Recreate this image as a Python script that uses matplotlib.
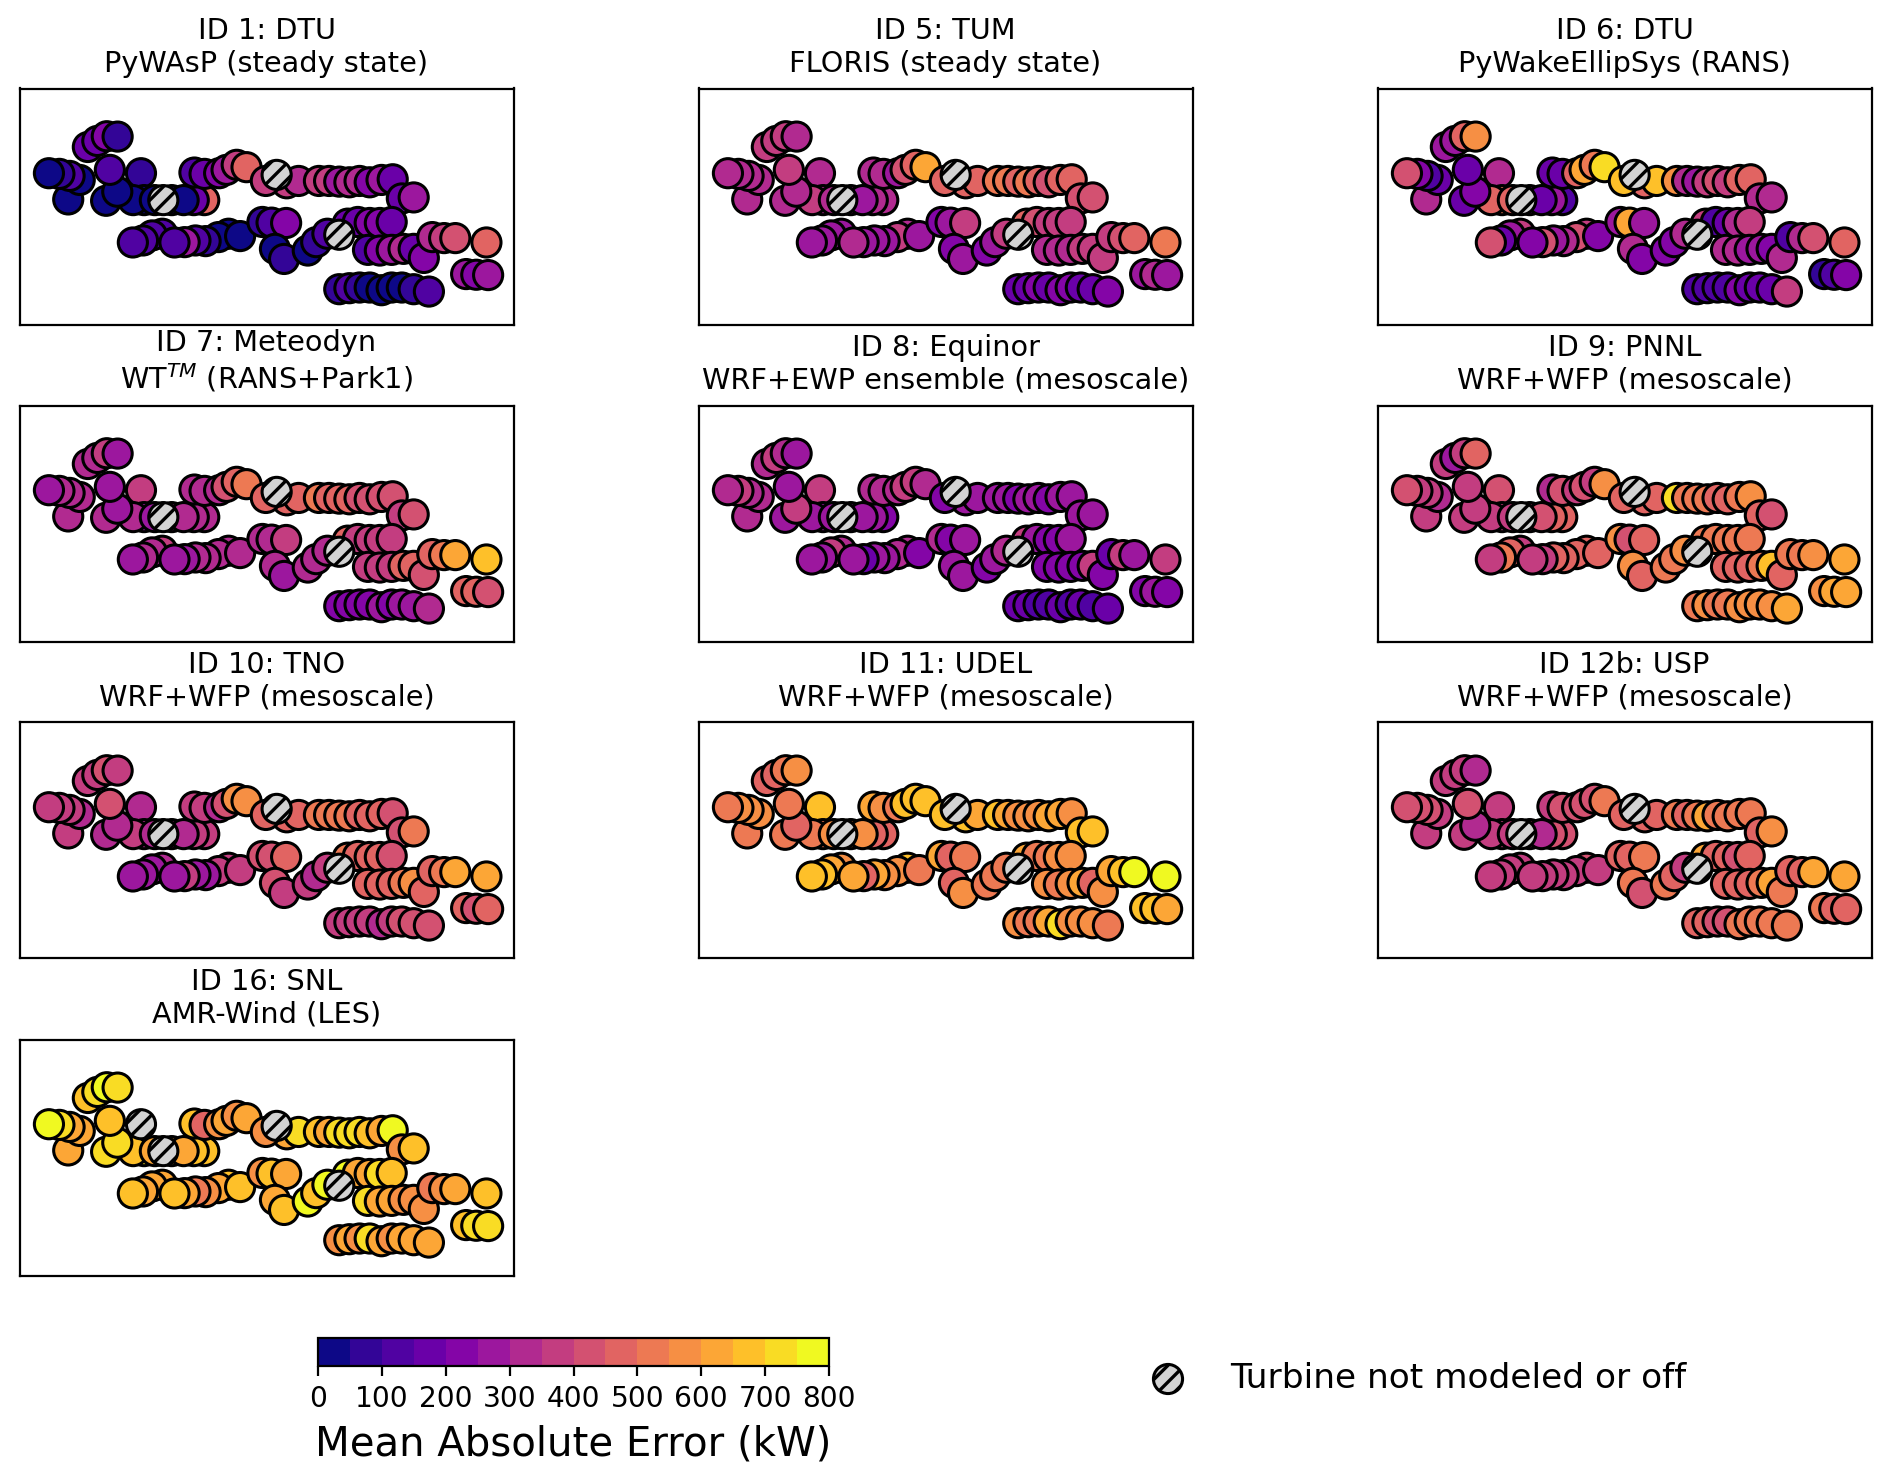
import numpy as np
import matplotlib as mpl
mpl.use('Agg')
import matplotlib.pyplot as plt

# Turbine layout, in draw order (later ones sit on top)
turbine_x = [262, 290, 318, 350,
             204, 238, 208, 178, 147,
             419, 316, 428, 396, 460, 349, 327,
             485,
             510, 606, 575, 545,
             577, 607, 650, 672, 702, 731,
             850, 788, 820, 885, 945, 975, 1005, 1035, 1065, 1095, 1130, 1163,
             1190, 1225,
             678, 648, 610, 580, 548, 482, 452, 425, 395, 518, 712,
             778, 805, 848,
             815, 842,
             912, 937, 970, 1005,
             1030, 1060, 1095, 1125, 1160,
             1090, 1125, 1160, 1195, 1225, 1255,
             1280, 1315, 1348,
             1440,
             1380, 1410, 1445,
             1005, 1035, 1065, 1095, 1130, 1160, 1190, 1225, 1270]
turbine_y = [232, 214, 200, 201,
             388, 330, 318, 312, 310,
             310, 392, 390, 390, 390, 365, 300,
             390,
             390, 390, 390, 390,
             308, 312, 310, 300, 285, 292,
             340, 333, 315, 333, 333, 333, 335, 337, 333, 337, 330, 328,
             385, 382,
             490, 500, 512, 510, 515, 490, 495, 510, 516, 516, 497,
             455, 457, 458,
             535, 565,
             540, 515, 490, 493,
             460, 455, 458, 458, 455,
             538, 540, 538, 535, 535, 562,
             500, 503, 503,
             516,
             610, 612, 613,
             655, 652, 650, 650, 658, 650, 650, 655, 662]

nan = np.nan

# Mean absolute error per turbine in kW, nan = turbine not modeled or off
mae_id1 = [175, 175, 225, 75, 25, 25, 125, 75, 25,
           75, 25, 25, 25, 25, 25, 125, nan,
           75, 475, 175, 25,
           125, 175, 225, 275, 375, 475,
           375, 375, nan, 325, 375, 375, 275, 325, 325, 225, 275, 175,
           175, 275,
           25, 25, 75, 125, 275, 125, 125, 125, 125, 125, 25,
           75, 125, 225, 25, 75, 25, 75, 125, nan,
           175, 175, 225, 225, 175,
           125, 225, 275, 325, 175, 225,
           325, 375, 425, 475, 275, 225, 275,
           75, 125, 75, 25, 25, 25, 25, 75, 125]
mae_id5 = [375, 375, 375, 325, 325, 325, 325, 325, 325,
           325, 325, 325, 375, 325, 325, 375, nan,
           325, 325, 325, 275,
           325, 325, 275, 425, 475, 625,
           475, 475, nan, 475, 525, 525, 475, 525, 475, 425, 475, 475,
           425, 425,
           325, 375, 275, 275, 275, 275, 275, 275, 275, 325, 275,
           225, 275, 375, 225, 275, 225, 275, 375, nan,
           475, 425, 375, 375, 375,
           325, 325, 325, 375, 375, 375,
           375, 425, 475, 525, 275, 325, 275,
           175, 175, 225, 175, 225, 225, 175, 175, 225]
mae_id6 = [275, 275, 475, 575, 325, 175, 125, 225, 425,
           325, 175, 525, 475, 475, 225, 175, nan,
           275, 125, 275, 175,
           175, 175, 475, 625, 525, 725,
           475, 675, nan, 675, 575, 325, 275, 375, 425, 375, 475, 475,
           325, 325,
           375, 425, 325, 275, 425, 375, 275, 175, 425, 225, 225,
           275, 625, 275, 325, 225, 225, 225, 325, nan,
           375, 125, 175, 325, 375,
           325, 325, 275, 275, 225, 325,
           125, 325, 425, 475, 75, 125, 225,
           125, 125, 125, 125, 225, 175, 175, 175, 375]
mae_id7 = [325, 325, 375, 275, 325, 325, 325, 325, 275,
           375, 325, 275, 325, 275, 275, 275, nan,
           325, 325, 325, 325,
           325, 325, 325, 425, 475, 525,
           475, 475, nan, 475, 525, 475, 475, 475, 425, 425, 425, 425,
           375, 425,
           325, 325, 325, 325, 275, 375, 325, 325, 275, 275, 325,
           325, 325, 375, 325, 275, 325, 325, 325, nan,
           475, 375, 375, 375, 375,
           375, 375, 375, 475, 475, 425,
           475, 525, 625, 675, 475, 475, 425,
           225, 225, 225, 225, 275, 225, 275, 275, 325]
mae_id8 = [325, 375, 325, 275, 325, 325, 325, 375, 325,
           375, 275, 275, 275, 275, 375, 275, nan,
           275, 225, 275, 275,
           325, 325, 325, 375, 375, 325,
           275, 225, nan, 275, 275, 275, 225, 275, 275, 225, 275, 275,
           275, 275,
           325, 325, 275, 275, 175, 325, 375, 275, 275, 275, 225,
           325, 225, 275, 275, 275, 225, 275, 325, nan,
           375, 275, 225, 225, 275,
           225, 225, 225, 225, 375, 225,
           175, 375, 275, 375, 225, 275, 225,
           175, 175, 125, 125, 175, 125, 175, 125, 175]
mae_id9 = [375, 275, 375, 475, 375, 325, 375, 375, 425,
           425, 375, 375, 375, 375, 375, 375, nan,
           375, 475, 475, 425,
           325, 425, 375, 425, 375, 575,
           475, 475, nan, 475, 725, 525, 525, 525, 475, 475, 525, 575,
           475, 425,
           475, 475, 475, 475, 375, 375, 475, 525, 375, 375, 475,
           575, 425, 475, 575, 475, 525, 525, 575, nan,
           525, 525, 525, 525, 525,
           475, 475, 475, 525, 675, 475,
           525, 525, 575, 625, 575, 625, 625,
           525, 575, 525, 525, 575, 575, 575, 575, 625]
mae_id10 = [375, 375, 425, 375, 375, 325, 375, 375, 375,
            325, 325, 325, 375, 325, 325, 425, nan,
            325, 375, 375, 325,
            375, 375, 325, 425, 575, 575,
            475, 475, nan, 475, 525, 525, 525, 525, 475, 475, 475, 425,
            425, 525,
            375, 375, 275, 275, 375, 325, 275, 275, 275, 275, 375,
            425, 425, 475, 425, 375, 375, 325, 375, nan,
            525, 475, 475, 475, 425,
            475, 475, 475, 525, 575, 475,
            475, 525, 625, 625, 475, 425, 475,
            375, 375, 375, 375, 325, 375, 425, 425, 425]
mae_id11 = [475, 475, 525, 575, 525, 575, 575, 575, 525,
            675, 525, 525, 525, 575, 475, 525, nan,
            575, 475, 475, 575,
            625, 575, 525, 675, 675, 675,
            675, 675, nan, 625, 675, 625, 575, 575, 575, 625, 625, 575,
            675, 675,
            675, 575, 575, 625, 475, 575, 625, 675, 675, 625, 525,
            625, 475, 525, 475, 575, 525, 525, 525, nan,
            625, 525, 525, 575, 575,
            575, 525, 575, 625, 475, 575,
            625, 675, 775, 775, 675, 675, 625,
            575, 525, 525, 625, 725, 575, 575, 575, 525]
mae_id12b = [375, 375, 375, 325, 375, 375, 425, 425, 425,
             375, 375, 375, 375, 375, 325, 425, nan,
             375, 425, 425, 325,
             375, 425, 425, 425, 425, 525,
             475, 475, nan, 475, 525, 475, 525, 625, 525, 525, 525, 525,
             475, 575,
             425, 375, 375, 375, 375, 375, 375, 375, 375, 375, 375,
             475, 475, 525, 525, 425, 525, 475, 375, nan,
             625, 475, 475, 425, 475,
             475, 475, 475, 525, 625, 525,
             475, 475, 625, 625, 525, 475, 475,
             475, 475, 425, 425, 525, 525, 525, 525, 525]
mae_id16 = [675, 725, 775, 725, 625, 625, 625, 725, 775,
            nan, 725, 725, 675, 625, 725, 675, nan,
            625, 675, 675, 625,
            675, 475, 575, 625, 575, 625,
            625, 575, nan, 725, 675, 625, 725, 725, 725, 675, 625, 775,
            575, 675,
            675, 625, 575, 525, 625, 625, 625, 625, 675, 675, 675,
            575, 675, 625, 625, 675, 775, 675, 775, nan,
            775, 625, 625, 725, 675,
            725, 625, 625, 575, 575, 575,
            525, 575, 625, 675, 675, 725, 725,
            575, 625, 575, 725, 625, 575, 625, 625, 625]

titles = ['ID 1: DTU\nPyWAsP (steady state)',
          'ID 5: TUM\nFLORIS (steady state)',
          'ID 6: DTU\nPyWakeEllipSys (RANS)',
          'ID 7: Meteodyn\nWT$^{TM}$ (RANS+Park1)',
          'ID 8: Equinor\nWRF+EWP ensemble (mesoscale)',
          'ID 9: PNNL\nWRF+WFP (mesoscale)',
          'ID 10: TNO\nWRF+WFP (mesoscale)',
          'ID 11: UDEL\nWRF+WFP (mesoscale)',
          'ID 12b: USP\nWRF+WFP (mesoscale)',
          'ID 16: SNL\nAMR-Wind (LES)']
panels = [mae_id1, mae_id5, mae_id6, mae_id7, mae_id8,
          mae_id9, mae_id10, mae_id11, mae_id12b, mae_id16]


def main():
    W, H = 1892, 1479
    plt.rcParams['hatch.linewidth'] = 1.2
    fig = plt.figure(figsize=(W / 200, H / 200), dpi=200)
    cmap = plt.get_cmap('plasma', 16)
    x = np.array(turbine_x)
    y = np.array(turbine_y)

    for i, (title, mae) in enumerate(zip(titles, panels)):
        mae = np.array(mae, dtype=float)
        col, row = i % 3, i // 3
        left = 19.5 + col * 679
        top = 88.5 + row * 317
        ax = fig.add_axes([left / W, 1 - (top + 236) / H, 494 / W, 236 / H])
        off = np.isnan(mae)
        sc = ax.scatter(x[~off], y[~off], c=mae[~off], s=110, cmap=cmap, vmin=0, vmax=800,
                        edgecolors='k', linewidths=1.1)
        ax.scatter(x[off], y[off], s=110, c='lightgray', edgecolors='k', linewidths=1.1,
                   hatch='////')
        ax.set_xlim(60, 1520)
        ax.set_ylim(760, 58)
        ax.set_xticks([])
        ax.set_yticks([])
        ax.set_title(title, fontsize=10.35, pad=6)

    cax = fig.add_axes([318 / W, 1 - 1366 / H, 511 / W, 28 / H])
    cb = fig.colorbar(sc, cax=cax, orientation='horizontal', ticks=np.arange(0, 801, 100))
    cb.ax.tick_params(labelsize=10.1)
    cb.set_label('Mean Absolute Error (kW)', fontsize=14.5)

    lax = fig.add_axes([0, 0, 1, 1], facecolor='none')
    lax.axis('off')
    lax.set_xlim(0, W)
    lax.set_ylim(H, 0)
    lax.scatter([1168], [1379], s=110, c='lightgray', edgecolors='k', linewidths=1.1, hatch='////')
    lax.text(1230, 1379, 'Turbine not modeled or off', fontsize=12.4, va='center', ha='left')

    fig.savefig('out.png', dpi=200)


if __name__ == "__main__":
    main()
